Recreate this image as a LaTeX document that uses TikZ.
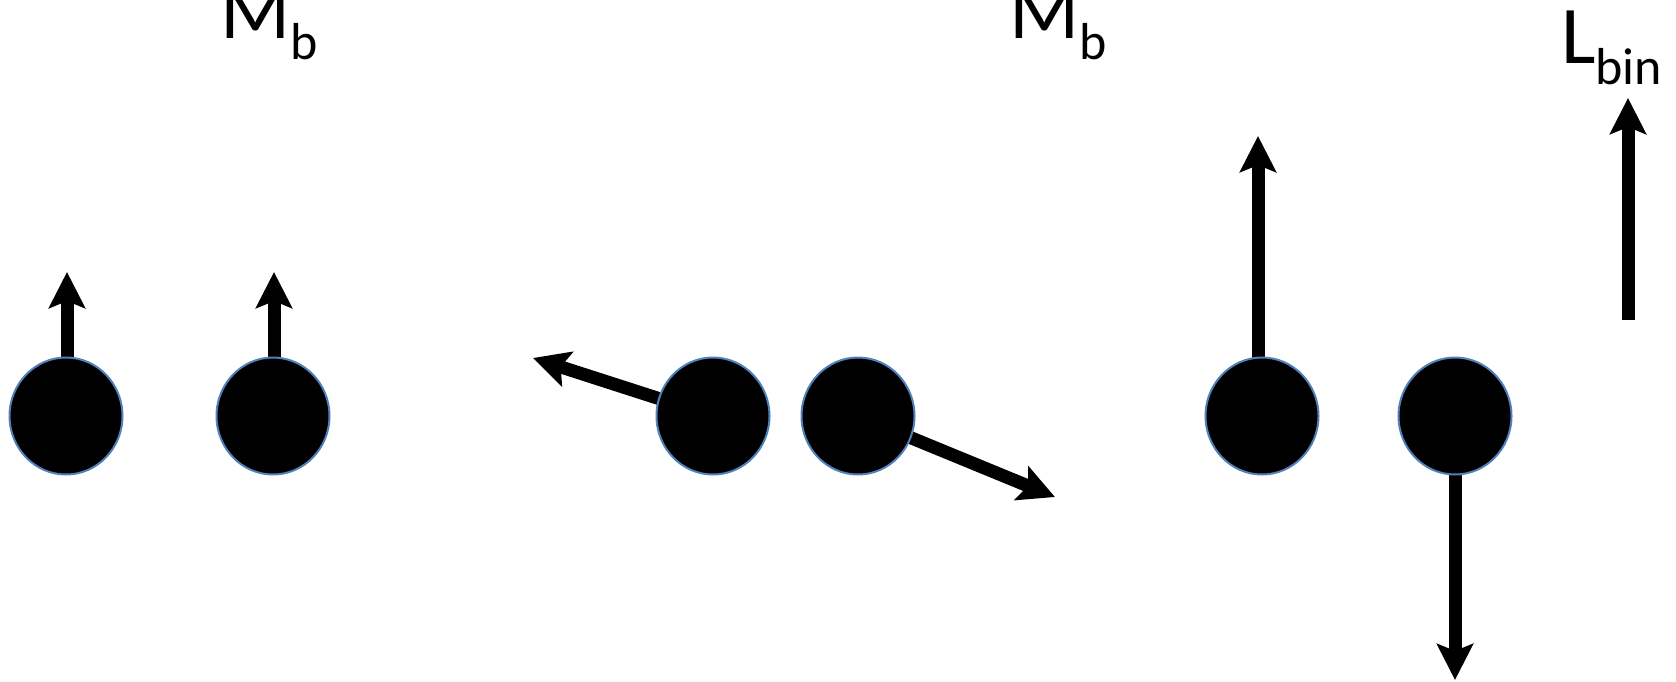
\documentclass[tikz,border=0pt]{standalone}
\usepackage{fontspec}
\setmainfont{Carlito}
\usetikzlibrary{arrows.meta,shapes.geometric}
\pgfdeclarelayer{background}
\pgfsetlayers{background,main}
\definecolor{outl}{RGB}{79,129,189}
\tikzset{
  ball/.style={ellipse, fill=black, draw=outl, line width=2pt, minimum width=113pt, minimum height=117pt, inner sep=0pt},
  arr/.style={line width=13pt, -{Stealth[length=36pt,width=36pt,inset=7pt]}},
  lbl/.style={anchor=base west, inner sep=0pt, font=\fontsize{82}{90}\selectfont},
}
\newcommand{\subtxt}[1]{\raisebox{-21pt}{\fontsize{52}{58}\selectfont #1}}
\begin{document}
\begin{tikzpicture}[x=1pt,y=-1pt]
\useasboundingbox (0,0) rectangle (1676,681);
\clip (0,0) rectangle (1676,681);
% labels
\node[lbl] (m1) at (220,38) {M\subtxt{b}};
\node[lbl] (m2) at (1009,38) {M\subtxt{b}};
\node[lbl] (lb) at (1561,63) {L\subtxt{bin}};
% balls
\node[ball] (c1) at (66,416) {};
\node[ball] (c2) at (273,416) {};
\node[ball] (c3) at (713,416) {};
\node[ball] (c4) at (858,416) {};
\node[ball] (c5) at (1262,416) {};
\node[ball] (c6) at (1455,416) {};
% free ends
\coordinate (t1) at (67,272);
\coordinate (t2) at (274,272);
\coordinate (t3) at (533,358);
\coordinate (t4) at (1055,497);
\coordinate (t5) at (1258,136);
\coordinate (t6) at (1455,680);
\coordinate (ls) at (1628,320);
\coordinate (lt) at (1628,98);
\begin{pgfonlayer}{background}
\draw[arr] (c1.center) ++(1,0) -- (t1);
\draw[arr] (c2.center) ++(1,0) -- (t2);
\draw[arr] (c3.center) -- (t3);
\draw[arr] (c4.center) -- (t4);
\draw[arr] (c5.center) ++(-4,0) -- (t5);
\draw[arr] (c6.center) -- (t6);
\end{pgfonlayer}
\draw[arr] (ls) -- (lt);
\end{tikzpicture}
\end{document}
